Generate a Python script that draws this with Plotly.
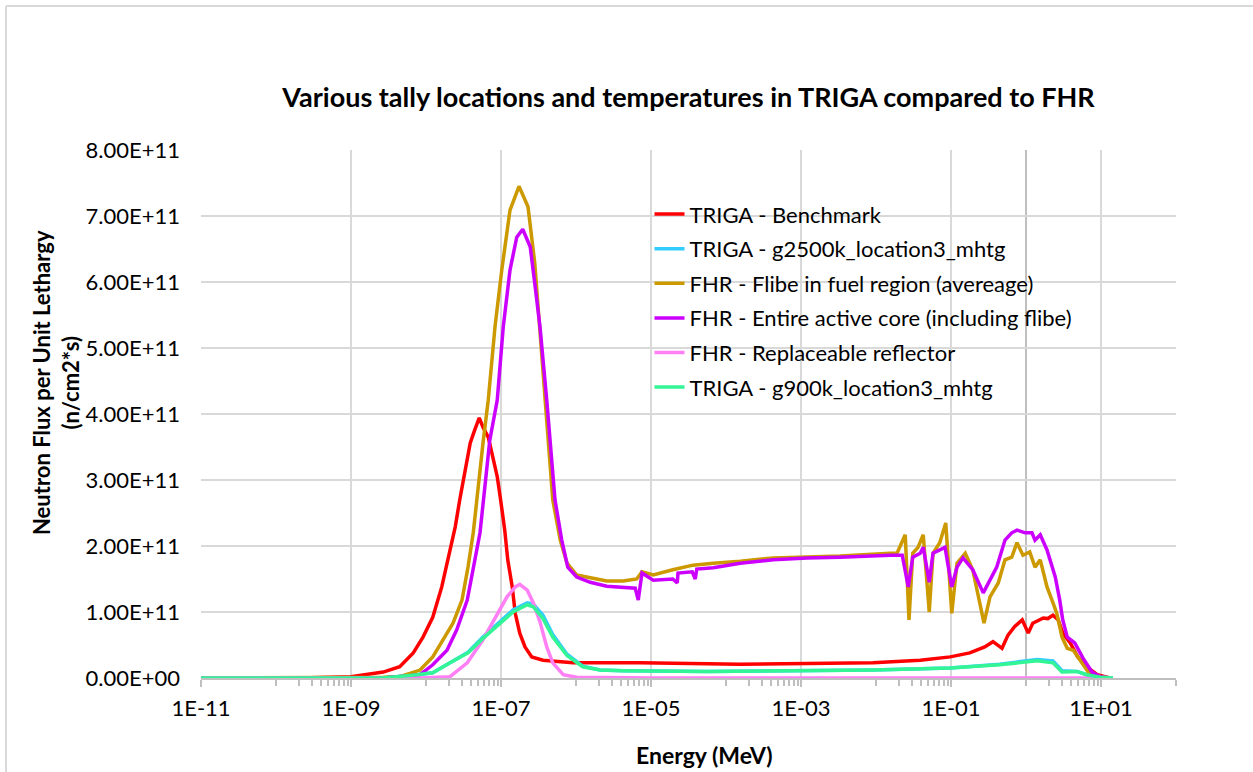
import numpy as np
import plotly.graph_objects as go

# ---------------- data (energy as log10(MeV), flux in units of 1e11 n/cm2*s) ----------------
red_logE = [-11, -9.68, -9, -8.57, -8.35, -8.17, -8.04, -7.91, -7.79, -7.68, -7.61, -7.55, -7.48,
            -7.41, -7.35, -7.29, -7.24, -7.17, -7.11, -7.05, -7.01, -6.95, -6.91, -6.85, -6.81,
            -6.75, -6.68, -6.59, -6.44, -6.04, -5.15, -3.81, -2.04, -1.41, -1.01, -0.75, -0.55,
            -0.44, -0.32, -0.24, -0.15, -0.05, 0.03, 0.09, 0.23, 0.29, 0.36, 0.43, 0.49, 0.59,
            0.69, 0.81, 0.95, 1.12]
red_flux = [0, 0, 0.02, 0.09, 0.17, 0.38, 0.62, 0.92, 1.38, 1.94, 2.29, 2.7, 3.1,
            3.56, 3.76, 3.94, 3.8, 3.65, 3.35, 3.05, 2.74, 2.24, 1.79, 1.38, 0.98,
            0.68, 0.47, 0.32, 0.27, 0.23, 0.23, 0.21, 0.23, 0.27, 0.32, 0.38, 0.47,
            0.55, 0.45, 0.65, 0.78, 0.88, 0.68, 0.83, 0.91, 0.9, 0.95, 0.88, 0.68, 0.53,
            0.32, 0.17, 0.05, 0]

cyan_logE = [-11, -8.57, -8.12, -7.91, -7.68, -7.44, -7.24, -7.01, -6.84, -6.65, -6.57, -6.44,
             -6.31, -6.12, -5.91, -5.68, -5.37, -4.25, -2.04, -1.01, -0.35, 0.15, 0.36, 0.48,
             0.59, 0.68, 0.81, 0.99, 1.16]
cyan_flux = [0, 0, 0.05, 0.08, 0.23, 0.39, 0.62, 0.86, 1.03, 1.14, 1.12, 0.95,
             0.66, 0.36, 0.18, 0.12, 0.11, 0.10, 0.12, 0.15, 0.21, 0.28, 0.26, 0.11,
             0.10, 0.10, 0.05, 0.01, 0]

gold_logE = [-11, -9, -8.57, -8.35, -8.08, -7.91, -7.77, -7.64, -7.52, -7.44, -7.37, -7.31,
             -7.24, -7.17, -7.08, -6.99, -6.88, -6.76, -6.64, -6.55, -6.41, -6.31, -6.21,
             -6.12, -5.99, -5.81, -5.59, -5.37, -5.19, -5.12, -4.97, -4.71, -4.44, -4.17,
             -3.81, -3.37, -2.92, -2.48, -1.81, -1.72, -1.61, -1.56, -1.51, -1.44, -1.37,
             -1.29, -1.24, -1.15, -1.07, -0.99, -0.92, -0.81, -0.71, -0.56, -0.48, -0.37,
             -0.28, -0.19, -0.12, -0.04, 0.05, 0.12, 0.19, 0.28, 0.36, 0.41, 0.48, 0.55,
             0.63, 0.75, 0.83, 0.99, 1.12]
gold_flux = [0, 0, 0.01, 0.02, 0.12, 0.32, 0.58, 0.83, 1.18, 1.68, 2.2, 2.85,
             3.56, 4.21, 5.32, 6.18, 7.09, 7.45, 7.14, 6.29, 4.21, 2.7, 2.09,
             1.74, 1.56, 1.52, 1.47, 1.47, 1.5, 1.61, 1.56, 1.64, 1.71, 1.74,
             1.77, 1.82, 1.83, 1.85, 1.89, 1.89, 2.17, 0.88, 1.89, 1.98, 2.17,
             1.0, 1.89, 2.05, 2.35, 0.98, 1.74, 1.89, 1.64, 0.83, 1.23, 1.44,
             1.79, 1.83, 2.05, 1.86, 1.91, 1.68, 1.79, 1.38, 1.14, 0.98, 0.62, 0.45,
             0.42, 0.23, 0.09, 0.02, 0]

purple_logE = [-11, -8.57, -8.08, -7.91, -7.72, -7.59, -7.45, -7.37, -7.28, -7.21, -7.15, -7.05,
               -6.97, -6.88, -6.79, -6.71, -6.61, -6.55, -6.48, -6.39, -6.28, -6.19, -6.11,
               -5.99, -5.81, -5.59, -5.32, -5.21, -5.17, -5.12, -4.97, -4.71, -4.65, -4.64,
               -4.45, -4.41, -4.39, -4.17, -3.81, -3.37, -2.92, -2.48, -1.81, -1.65, -1.57,
               -1.51, -1.41, -1.37, -1.29, -1.24, -1.08, -0.99, -0.92, -0.84, -0.71, -0.57,
               -0.39, -0.28, -0.19, -0.12, -0.01, 0.08, 0.12, 0.19, 0.28, 0.39, 0.45, 0.49,
               0.55, 0.65, 0.76, 0.88, 0.99, 1.12]
purple_flux = [0, 0, 0.05, 0.2, 0.42, 0.73, 1.18, 1.68, 2.2, 2.95, 3.6, 4.21,
               5.32, 6.18, 6.68, 6.8, 6.53, 5.98, 5.32, 4.21, 2.7, 2.09, 1.68,
               1.53, 1.45, 1.39, 1.36, 1.36, 1.18, 1.59, 1.48, 1.5, 1.44, 1.59,
               1.61, 1.5, 1.65, 1.67, 1.74, 1.79, 1.82, 1.83, 1.86, 1.86, 1.38,
               1.83, 1.89, 1.98, 1.45, 1.89, 1.98, 1.38, 1.68, 1.82, 1.64, 1.29,
               1.68, 2.09, 2.2, 2.24, 2.2, 2.2, 2.09, 2.17, 1.94, 1.53, 1.18, 0.88,
               0.62, 0.53, 0.3, 0.09, 0.02, 0]

pink_logE = [-11, -8.08, -7.68, -7.45, -7.24, -7.05, -6.92, -6.81, -6.75, -6.65, -6.57, -6.48,
             -6.39, -6.31, -6.17, -5.99, -5.0, 1.16]
pink_flux = [0, 0, 0.02, 0.23, 0.58, 0.98, 1.23, 1.38, 1.42, 1.33, 1.14, 0.85,
             0.47, 0.23, 0.05, 0.01, 0, 0]

green_logE = [-11, -8.57, -8.12, -7.91, -7.68, -7.44, -7.24, -7.01, -6.84, -6.65, -6.57, -6.44,
              -6.31, -6.12, -5.91, -5.68, -5.37, -4.25, -2.04, -1.01, -0.35, 0.15, 0.36, 0.48,
              0.59, 0.68, 0.81, 0.99, 1.16]
green_flux = [0, 0, 0.05, 0.08, 0.23, 0.38, 0.6, 0.84, 1.0, 1.11, 1.08, 0.9,
              0.62, 0.34, 0.17, 0.12, 0.11, 0.10, 0.12, 0.15, 0.20, 0.26, 0.23, 0.09,
              0.09, 0.10, 0.05, 0.01, 0]

series_names = [
    "TRIGA - Benchmark",
    "TRIGA - g2500k_location3_mhtg",
    "FHR - Flibe in fuel region (avereage)",
    "FHR - Entire active core (including flibe)",
    "FHR - Replaceable reflector",
    "TRIGA - g900k_location3_mhtg",
]
series_colors = ["#FF0000", "#33CCFF", "#CC9900", "#CC00FF", "#FF80F4", "#33F596"]

x_tick_vals = [1e-11, 1e-9, 1e-7, 1e-5, 1e-3, 1e-1, 1e1]
x_tick_text = ["1E-11", "1E-09", "1E-07", "1E-05", "1E-03", "1E-01", "1E+01"]
y_tick_vals = [i * 1e11 for i in range(9)]
y_tick_text = ["0.00E+00", "1.00E+11", "2.00E+11", "3.00E+11", "4.00E+11",
               "5.00E+11", "6.00E+11", "7.00E+11", "8.00E+11"]

# minor ticks (Excel: 1..9 x 10^odd exponents)
minor_vals = [m * 10.0 ** e for e in range(-10, 2, 2) for m in range(1, 10)] + [100.0]

FONT = "Lato"

fig = go.Figure()
all_logE = [red_logE, cyan_logE, gold_logE, purple_logE, pink_logE, green_logE]
all_flux = [red_flux, cyan_flux, gold_flux, purple_flux, pink_flux, green_flux]
for i, (le, fl) in enumerate(zip(all_logE, all_flux)):
    fig.add_trace(go.Scatter(
        x=10 ** np.array(le, dtype=float),
        y=np.array(fl, dtype=float) * 1e11,
        mode="lines",
        name=series_names[i],
        legendgroup=f"g{i}",
        line=dict(color=series_colors[i], width=3.5),
    ))

# darker vertical line at 1 MeV
fig.add_shape(type="line", xref="x", yref="paper", x0=1, x1=1, y0=0, y1=1,
              line=dict(color="#BFBFBF", width=2), layer="below")
# chart-area border (left, top)
fig.add_shape(type="line", xref="paper", yref="paper", x0=-0.2, x1=-0.2, y0=-0.2, y1=1.2727,
              line=dict(color="#D9D9D9", width=2))
fig.add_shape(type="line", xref="paper", yref="paper", x0=-0.2, x1=1.1, y0=1.2727, y1=1.2727,
              line=dict(color="#D9D9D9", width=2))

fig.update_layout(
    width=1253, height=772,
    margin=dict(l=201, r=77, t=150, b=94),
    paper_bgcolor="white", plot_bgcolor="white",
    font=dict(family=FONT, size=22, color="#000000"),
    title=dict(text="<b>Various tally locations and temperatures in TRIGA compared to FHR</b>",
               x=0.5, xref="paper", y=1 - 98 / 772, yref="container", yanchor="middle",
               xanchor="center", font=dict(family=FONT, size=27, color="#000000")),
    showlegend=True,
    legend=dict(x=0.46, y=0.918, xanchor="left", yanchor="top",
                bgcolor="rgba(0,0,0,0)", tracegroupgap=3,
                font=dict(family=FONT, size=22, color="#000000")),
    annotations=[
        dict(text="<b>Neutron Flux per Unit Lethargy<br>(n/cm2*s)</b>", textangle=-90,
             xref="paper", yref="paper", x=-0.1487, y=0.5587, showarrow=False,
             xanchor="center", yanchor="middle", font=dict(family=FONT, size=22)),
        dict(text="<b>Energy (MeV)</b>", xref="paper", yref="paper", x=0.516, y=-0.1458,
             showarrow=False, xanchor="center", yanchor="middle",
             font=dict(family=FONT, size=23)),
    ],
)

fig.update_xaxes(
    type="log", range=[-11, 2],
    tickmode="array", tickvals=x_tick_vals, ticktext=x_tick_text,
    showgrid=True, gridcolor="#D9D9D9", gridwidth=1.5,
    showline=True, linecolor="#BFBFBF", linewidth=2,
    ticks="outside", ticklen=7, tickcolor="#BFBFBF", tickwidth=1.5,
    ticklabelstandoff=3,
    minor=dict(tickmode="array", tickvals=minor_vals, ticks="outside", ticklen=6,
               tickcolor="#BFBFBF", tickwidth=1.5, showgrid=False),
    zeroline=False,
    tickfont=dict(family=FONT, size=22),
)
fig.update_yaxes(
    range=[0, 8e11],
    tickmode="array", tickvals=y_tick_vals, ticktext=y_tick_text,
    showgrid=True, gridcolor="#D9D9D9", gridwidth=1.5,
    showline=False, zeroline=False, ticks="",
    ticklabelstandoff=20,
    tickfont=dict(family=FONT, size=22),
)

fig.write_html("out.html")
